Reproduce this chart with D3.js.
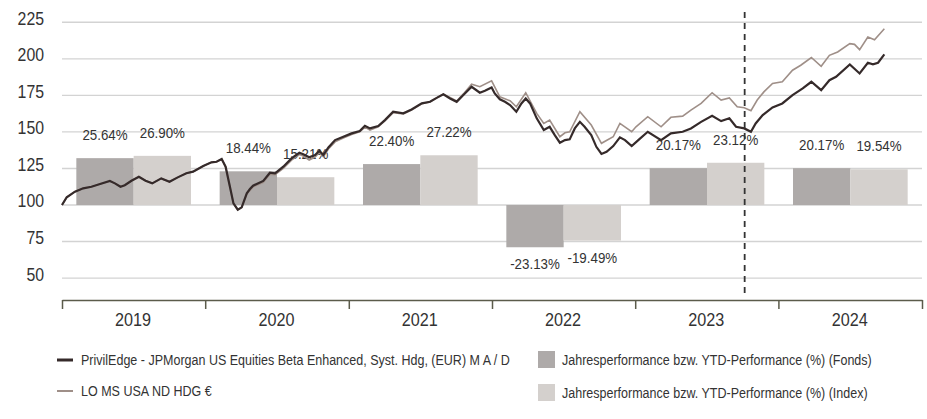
<!DOCTYPE html>
<html>
<head>
<meta charset="utf-8">
<script src="https://cdn.jsdelivr.net/npm/d3@7"></script>
<style>
  html, body { margin: 0; padding: 0; background: #fff; }
  text { font-family: "Liberation Sans", Arial, sans-serif; fill: #333; }
</style>
</head>
<body>
<svg id="chart" width="927" height="419"></svg>
<script>
// yearly performance bars
const years = ["2019", "2020", "2021", "2022", "2023", "2024"];
const fundPerf = [25.64, 18.44, 22.40, -23.13, 20.17, 20.17];
const indexPerf = [26.90, 15.21, 27.22, -19.49, 23.12, 19.54];
const yTicks = [50, 75, 100, 125, 150, 175, 200, 225];
const markerDate = "2023-10-07";

// indexed price series (start = 100)
const fundSeries = [
  ["2019-01-01", 100], ["2019-01-13", 105.3], ["2019-02-03", 109.1], ["2019-02-24", 111.4],
  ["2019-03-17", 112.5], ["2019-04-08", 114.4], ["2019-05-03", 116.4], ["2019-05-16", 114.8],
  ["2019-05-30", 112.5], ["2019-06-10", 113.5], ["2019-06-27", 116.6], ["2019-07-16", 119.3],
  ["2019-08-02", 116.6], ["2019-08-19", 114.8], ["2019-09-11", 118.2], ["2019-10-02", 115.9],
  ["2019-10-23", 118.9], ["2019-11-14", 121.7], ["2019-12-01", 122.8], ["2019-12-27", 126.7],
  ["2020-01-17", 129.2], ["2020-01-30", 129.6], ["2020-02-12", 131.4], ["2020-02-22", 126.2],
  ["2020-03-04", 112.5], ["2020-03-13", 101.1], ["2020-03-24", 96.8], ["2020-04-03", 98.4],
  ["2020-04-16", 108.0], ["2020-04-24", 110.9], ["2020-05-02", 113.2], ["2020-05-28", 116.5],
  ["2020-06-14", 122.1], ["2020-06-27", 121.7], ["2020-07-18", 126.2], ["2020-08-08", 131.9],
  ["2020-08-28", 135.7], ["2020-09-07", 134.7], ["2020-09-22", 132.6], ["2020-10-07", 134.2],
  ["2020-10-18", 137.1], ["2020-10-28", 134.2], ["2020-11-10", 139.4], ["2020-11-27", 144.4],
  ["2020-12-18", 146.7], ["2021-01-08", 149.0], ["2021-01-29", 150.6], ["2021-02-11", 154.2],
  ["2021-02-24", 152.4], ["2021-03-17", 154.0], ["2021-04-03", 158.1], ["2021-04-24", 163.8],
  ["2021-05-20", 162.7], ["2021-06-10", 165.4], ["2021-07-06", 169.5], ["2021-07-27", 170.6],
  ["2021-08-13", 173.3], ["2021-08-30", 175.7], ["2021-09-16", 172.9], ["2021-10-03", 170.6],
  ["2021-10-20", 175.2], ["2021-11-10", 180.9], ["2021-12-01", 176.8], ["2021-12-14", 178.1],
  ["2021-12-31", 180.4], ["2022-01-08", 176.3], ["2022-01-21", 172.3], ["2022-02-03", 170.6],
  ["2022-02-16", 168.4], ["2022-03-04", 163.8], ["2022-03-17", 169.5], ["2022-03-28", 172.9],
  ["2022-04-08", 169.5], ["2022-04-25", 159.3], ["2022-05-13", 151.3], ["2022-05-28", 153.5],
  ["2022-06-10", 147.8], ["2022-06-23", 142.6], ["2022-07-06", 144.4], ["2022-07-18", 144.9],
  ["2022-07-31", 152.4], ["2022-08-13", 156.9], ["2022-08-25", 153.5], ["2022-09-11", 147.8],
  ["2022-09-24", 139.8], ["2022-10-07", 134.9], ["2022-10-20", 136.4], ["2022-11-06", 140.3],
  ["2022-11-23", 146.3], ["2022-12-06", 144.4], ["2022-12-23", 140.3], ["2023-01-11", 144.9],
  ["2023-02-02", 150.1], ["2023-03-08", 144.4], ["2023-04-02", 149.0], ["2023-05-02", 150.1],
  ["2023-05-23", 152.4], ["2023-06-18", 156.9], ["2023-07-16", 161.0], ["2023-08-08", 157.4],
  ["2023-08-29", 159.3], ["2023-09-15", 153.5], ["2023-10-06", 152.4], ["2023-10-23", 150.1],
  ["2023-11-04", 155.8], ["2023-11-22", 161.5], ["2023-12-17", 166.8], ["2024-01-11", 169.5],
  ["2024-02-06", 175.2], ["2024-03-03", 179.8], ["2024-03-25", 184.3], ["2024-04-19", 178.6],
  ["2024-05-10", 185.4], ["2024-05-27", 187.7], ["2024-07-01", 196.2], ["2024-07-26", 190.0],
  ["2024-08-16", 197.3], ["2024-08-29", 196.2], ["2024-09-11", 197.3], ["2024-09-27", 203.0]
];

const indexSeries = [
  ["2019-01-01", 100], ["2019-01-13", 105.3], ["2019-02-03", 109.1], ["2019-02-24", 111.4],
  ["2019-03-17", 112.5], ["2019-04-08", 114.4], ["2019-05-03", 116.4], ["2019-05-16", 114.8],
  ["2019-05-30", 112.5], ["2019-06-10", 113.5], ["2019-06-27", 116.6], ["2019-07-16", 119.3],
  ["2019-08-02", 116.6], ["2019-08-19", 114.8], ["2019-09-11", 118.2], ["2019-10-02", 115.9],
  ["2019-10-23", 118.9], ["2019-11-14", 121.7], ["2019-12-01", 122.8], ["2019-12-27", 126.7],
  ["2020-01-17", 129.2], ["2020-01-30", 129.6], ["2020-02-12", 131.4], ["2020-02-22", 126.2],
  ["2020-03-04", 112.5], ["2020-03-13", 101.1], ["2020-03-24", 96.8], ["2020-04-03", 98.4],
  ["2020-04-16", 107.5], ["2020-04-24", 110.0], ["2020-05-02", 112.4], ["2020-05-28", 115.5],
  ["2020-06-14", 121.0], ["2020-06-27", 120.8], ["2020-07-18", 125.0], ["2020-08-08", 130.7],
  ["2020-08-28", 134.5], ["2020-09-07", 133.5], ["2020-09-22", 130.8], ["2020-10-07", 132.8],
  ["2020-10-18", 136.0], ["2020-10-28", 133.0], ["2020-11-10", 138.3], ["2020-11-27", 143.2],
  ["2020-12-18", 145.8], ["2021-01-08", 148.2], ["2021-01-29", 150.0], ["2021-02-11", 153.3],
  ["2021-02-24", 151.2], ["2021-03-17", 153.5], ["2021-04-03", 157.5], ["2021-04-24", 163.2],
  ["2021-05-20", 162.3], ["2021-06-10", 165.0], ["2021-07-06", 169.3], ["2021-07-27", 170.5],
  ["2021-08-13", 173.3], ["2021-08-30", 175.9], ["2021-09-16", 173.5], ["2021-10-03", 171.2],
  ["2021-10-20", 176.0], ["2021-11-10", 182.7], ["2021-12-01", 180.9], ["2021-12-31", 185.0],
  ["2022-01-21", 174.0], ["2022-02-16", 171.3], ["2022-03-04", 167.2], ["2022-03-28", 176.8],
  ["2022-04-25", 162.7], ["2022-05-13", 155.8], ["2022-05-28", 158.1], ["2022-06-23", 146.7],
  ["2022-07-06", 149.4], ["2022-07-18", 150.1], ["2022-08-13", 163.8], ["2022-09-11", 154.7],
  ["2022-10-07", 142.2], ["2022-11-06", 146.7], ["2022-11-23", 155.8], ["2022-12-23", 150.1],
  ["2023-01-03", 153.5], ["2023-02-02", 160.4], ["2023-03-08", 153.5], ["2023-04-02", 160.0],
  ["2023-05-02", 160.8], ["2023-05-23", 164.9], ["2023-06-18", 169.5], ["2023-07-16", 176.8],
  ["2023-08-08", 171.8], ["2023-08-29", 173.3], ["2023-09-18", 167.2], ["2023-10-06", 166.5],
  ["2023-10-23", 164.5], ["2023-11-08", 171.8], ["2023-11-25", 177.4], ["2023-12-17", 183.1],
  ["2024-01-11", 184.3], ["2024-02-06", 192.2], ["2024-02-27", 195.6], ["2024-03-25", 200.9],
  ["2024-04-19", 194.9], ["2024-05-10", 202.4], ["2024-05-31", 204.7], ["2024-07-01", 210.4],
  ["2024-07-13", 209.9], ["2024-07-26", 206.3], ["2024-08-16", 214.9], ["2024-09-02", 213.1],
  ["2024-09-27", 220.6]
];

const parse = d3.timeParse("%Y-%m-%d");
const svg = d3.select("#chart");

const plotLeft = 62, plotRight = 922, plotTop = 22.3, axisY = 300;

const x = d3.scaleTime()
  .domain([parse("2019-01-01"), parse("2025-01-01")])
  .range([plotLeft, plotRight]);
const y = d3.scaleLinear().domain([35, 225]).range([axisY, plotTop]);
// bars: 20% is drawn as high as 25 points on the index axis
const yPct = d3.scaleLinear().domain([0, 20]).range([y(100), y(125)]);

const band = d3.scaleBand().domain(years).range([plotLeft, plotRight])
  .paddingInner(0.2).paddingOuter(0.1);
const sub = d3.scaleBand().domain(["fund", "index"]).range([0, band.bandwidth()]);

// condensed look: squeeze text horizontally around its anchor point
const squeeze = (px, py, sx) => `translate(${px},${py}) scale(${sx},1)`;

// grid
svg.append("g").selectAll("line").data(yTicks).join("line")
  .attr("x1", plotLeft).attr("x2", plotRight)
  .attr("y1", d => y(d)).attr("y2", d => y(d))
  .attr("stroke", "#d3d3d3").attr("stroke-width", 1.4);

svg.append("g").selectAll("text").data(yTicks).join("text")
  .attr("transform", d => squeeze(44, y(d) + 2.5, 0.88))
  .attr("text-anchor", "end")
  .style("font-size", "18px")
  .text(d => d);

// bars
const barData = years.flatMap((yr, i) => [
  { yr, key: "fund", v: fundPerf[i] },
  { yr, key: "index", v: indexPerf[i] }
]);
const barColor = { fund: "#aeaaa9", index: "#d4d0cd" };

svg.append("g").selectAll("rect").data(barData).join("rect")
  .attr("x", d => band(d.yr) + sub(d.key))
  .attr("width", sub.bandwidth())
  .attr("y", d => Math.min(yPct(d.v), yPct(0)))
  .attr("height", d => Math.abs(yPct(d.v) - yPct(0)))
  .attr("fill", d => barColor[d.key]);

svg.append("g").selectAll("text").data(barData).join("text")
  .attr("transform", d => squeeze(
    band(d.yr) + sub(d.key) + sub.bandwidth() / 2,
    d.v >= 0 ? yPct(d.v) - 18 : yPct(d.v) + 22, 0.92))
  .attr("text-anchor", "middle")
  .style("font-size", "14.5px")
  .text(d => d.v.toFixed(2) + "%");

// lines
const line = d3.line()
  .x(d => x(parse(d[0])))
  .y(d => y(d[1]));

svg.append("path").datum(indexSeries)
  .attr("d", line).attr("fill", "none")
  .attr("stroke", "#9f8f88").attr("stroke-width", 1.6);
svg.append("path").datum(fundSeries)
  .attr("d", line).attr("fill", "none")
  .attr("stroke", "#352a2a").attr("stroke-width", 2.2);

// marker
svg.append("line")
  .attr("x1", x(parse(markerDate))).attr("x2", x(parse(markerDate)))
  .attr("y1", 12).attr("y2", 296)
  .attr("stroke", "#333").attr("stroke-width", 1.8)
  .attr("stroke-dasharray", "6,5");

// x axis
const yearStarts = d3.range(2019, 2026).map(yr => parse(yr + "-01-01"));
const xAxis = svg.append("g")
  .attr("transform", `translate(0,${axisY})`)
  .call(d3.axisBottom(x).tickValues(yearStarts).tickFormat("").tickSize(9).tickSizeOuter(0));
xAxis.select(".domain").attr("stroke", "#5b5b4b").attr("stroke-width", 1.5);
xAxis.selectAll(".tick line").attr("stroke", "#5b5b4b").attr("stroke-width", 1.5);

svg.append("g").selectAll("text").data(years).join("text")
  .attr("transform", d => squeeze(x(parse(d + "-07-01")), 326, 0.9))
  .attr("text-anchor", "middle")
  .style("font-size", "18px")
  .text(d => d);

// legend
const legLines = [
  { label: "PrivilEdge - JPMorgan US Equities Beta Enhanced, Syst. Hdg, (EUR) M A / D", color: "#352a2a", w: 3 },
  { label: "LO MS USA ND HDG €", color: "#9f8f88", w: 2 }
];
const legBars = [
  { label: "Jahresperformance bzw. YTD-Performance (%) (Fonds)", color: barColor.fund },
  { label: "Jahresperformance bzw. YTD-Performance (%) (Index)", color: barColor.index }
];
const lg = svg.append("g").selectAll("g").data(legLines).join("g")
  .attr("transform", (d, i) => `translate(57,${360 + i * 31})`);
lg.append("line").attr("x1", 0).attr("x2", 16)
  .attr("stroke", d => d.color).attr("stroke-width", d => d.w);
lg.append("text").attr("transform", squeeze(24, 5, 0.835))
  .style("font-size", "15px").text(d => d.label);

const lb = svg.append("g").selectAll("g").data(legBars).join("g")
  .attr("transform", (d, i) => `translate(538,${351 + i * 33})`);
lb.append("rect").attr("width", 17).attr("height", 17).attr("fill", d => d.color);
lb.append("text").attr("transform", squeeze(24, 13.5, 0.835))
  .style("font-size", "15px").text(d => d.label);
</script>
</body>
</html>
